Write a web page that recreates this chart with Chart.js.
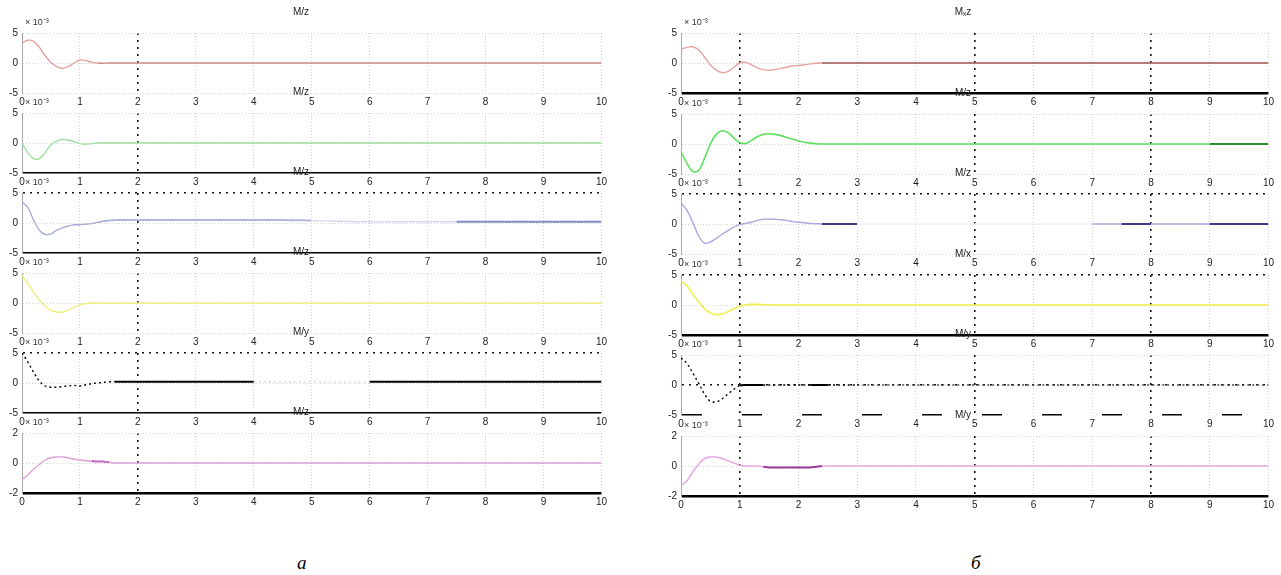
<!DOCTYPE html>
<html>
<head>
<meta charset="utf-8">
<script src="https://cdn.jsdelivr.net/npm/chart.js@4.4.1/dist/chart.umd.min.js"></script>
<style>
body { margin:0; background:#fff; width:1281px; height:575px; position:relative; overflow:hidden; }
.plot { position:absolute; }
.letter { position:absolute; font-family:"Liberation Serif", serif; font-style:italic; font-size:19px; color:#000; }
</style>
</head>
<body>
<div class="letter" style="left:297px;top:552px">а</div>
<div class="letter" style="left:971px;top:552px">б</div>
<script>
// time axis (s) and tick labels
const time = [0,0.1,0.2,0.3,0.4,0.5,0.6,0.7,0.8,0.9,1,1.1,1.2,1.3,1.4,1.5,1.6,1.7,1.8,1.9,2,2.1,2.2,2.3,2.4,2.5,3,3.5,4,4.5,5,5.5,6,6.5,7,7.5,8,8.5,9,9.5,10];
const xTicks = [0,1,2,3,4,5,6,7,8,9,10];
const yTicks5 = [-5,0,5];
const yTicks2 = [-2,0,2];

// panel a (x 10^-3)
const aRow1 = [3.3,3.8,3.6,2.6,1.2,0.1,-0.6,-0.9,-0.6,0,0.5,0.4,0.1,0,-0.05,0,0,0,0,0,0,0,0,0,0,0,0,0,0,0,0,0,0,0,0,0,0,0,0,0,0];
const aRow2 = [0,-1.6,-2.6,-2.6,-1.6,-0.3,0.3,0.6,0.5,0.2,-0.1,-0.2,-0.1,0,0,0,0,0,0,0,0,0,0,0,0,0,0,0,0,0,0,0,0,0,0,0,0,0,0,0,0];
const aRow3 = [3.5,2.6,0.5,-1.2,-1.9,-1.8,-1.2,-0.8,-0.5,-0.3,-0.3,-0.2,-0.1,0.1,0.3,0.4,0.5,0.5,0.5,0.5,0.5,0.5,0.5,0.5,0.5,0.5,0.5,0.5,0.5,0.5,0.4,0.3,0.2,0.2,0.2,0.2,0.2,0.2,0.2,0.2,0.2];
const aRow4 = [4.5,3.3,1.8,0.5,-0.5,-1.2,-1.5,-1.5,-1.2,-0.7,-0.3,-0.1,0,0,0,0,0,0,0,0,0,0,0,0,0,0,0,0,0,0,0,0,0,0,0,0,0,0,0,0,0];
const aRow5 = [5,3.5,1.8,0.3,-0.5,-0.7,-0.7,-0.6,-0.5,-0.4,-0.5,-0.3,-0.1,0,0.1,0.2,0.2,0.2,0.2,0.2,0.2,0.2,0.2,0.2,0.2,0.2,0.2,0.2,0.2,0.2,0.2,0.2,0.2,0.2,0.2,0.2,0.2,0.2,0.2,0.2,0.2];
const aRow6 = [-1.1,-0.8,-0.4,-0.1,0.2,0.35,0.4,0.4,0.35,0.25,0.2,0.15,0.12,0.1,0.1,0.05,0,0,0,0,0,0,0,0,0,0,0,0,0,0,0,0,0,0,0,0,0,0,0,0,0];

// panel б (x 10^-3)
const bRow1 = [2.3,2.6,2.7,2.2,1.0,-0.3,-1.2,-1.6,-1.4,-0.7,0,0.1,-0.3,-0.8,-1.1,-1.2,-1.1,-0.9,-0.7,-0.5,-0.4,-0.3,-0.15,-0.05,0,0,0,0,0,0,0,0,0,0,0,0,0,0,0,0,0];
const bRow2 = [-1.3,-3.2,-4.6,-4.4,-2.4,0,1.6,2.2,1.9,1.0,0.2,0.1,0.6,1.2,1.6,1.7,1.6,1.4,1.1,0.8,0.5,0.3,0.15,0.05,0,0,0,0,0,0,0,0,0,0,0,0,0,0,0,0,0];
const bRow3 = [3.5,2.3,0.3,-2.0,-3.2,-3.0,-2.4,-1.7,-1.1,-0.5,-0.1,0.1,0.3,0.6,0.8,0.8,0.8,0.7,0.6,0.4,0.3,0.2,0.1,0.05,0,0,0,0,0,0,0,0,0,0,0,0,0,0,0,0,0];
const bRow4 = [4.0,3.2,1.8,0.5,-0.6,-1.3,-1.6,-1.5,-1.1,-0.6,-0.2,0,0.1,0.1,0.05,0,0,0,0,0,0,0,0,0,0,0,0,0,0,0,0,0,0,0,0,0,0,0,0,0,0];
const bRow5 = [4.5,3.6,2.0,0.3,-1.5,-2.7,-2.8,-2.3,-1.5,-0.7,-0.1,0,0,0,0,0,0,0,0,0,0,0,0,0,0,0,0,0,0,0,0,0,0,0,0,0,0,0,0,0,0];
const bRow6 = [-1.3,-1.0,-0.4,0.1,0.5,0.6,0.6,0.5,0.35,0.2,0.05,0,0,0,-0.05,-0.1,-0.1,-0.1,-0.1,-0.1,-0.1,-0.1,-0.1,-0.05,0,0,0,0,0,0,0,0,0,0,0,0,0,0,0,0,0];

Chart.defaults.font.family = '"Liberation Sans", Arial, sans-serif';
Chart.defaults.font.size = 10;

const GRID = '#d2d2d2';
const DARK = '#111';

// little "x 10^-3" label above the left end of each plot
const expLabel = {
	id: 'expLabel',
	afterDraw(chart, args, opts) {
		const {ctx, chartArea} = chart;
		ctx.save();
		ctx.font = '9px "Liberation Sans", Arial, sans-serif';
		ctx.fillStyle = '#333';
		ctx.textBaseline = 'alphabetic';
		ctx.fillText(opts.text, chartArea.left + 3, chartArea.top - 8);
		ctx.restore();
	}
};

function pick(spans, x, key, dflt) {
	for (const s of spans) {
		if (x >= s[0] && x < s[1] && s[2][key] !== undefined) return s[2][key];
	}
	return dflt;
}

function yLine(p, v, key) {
	const st = v === p.yTicks[0] ? p.gBottom : (v === 0 ? p.gZero : p.gTop);
	const base = {color: GRID, width: 1, dash: [1, 2]};
	return (st || base)[key];
}

function makePlot(p) {
	const cv = document.createElement('canvas');
	cv.width = p.w;
	cv.height = 103;
	cv.className = 'plot';
	cv.style.left = p.left + 'px';
	cv.style.top = p.top + 'px';
	document.body.appendChild(cv);

	const spans = p.spans || [];
	const lw = p.lw || 1.4;

	return new Chart(cv, {
		type: 'line',
		data: {
			datasets: [{
				data: time.map((t, i) => ({x: t, y: p.values[i]})),
				borderColor: p.color,
				borderWidth: lw,
				borderDash: p.dash || [],
				pointRadius: 0,
				tension: 0.35,
				segment: {
					borderColor: c => pick(spans, c.p0.parsed.x, 'color', p.color),
					borderWidth: c => pick(spans, c.p0.parsed.x, 'width', lw),
					borderDash: c => pick(spans, c.p0.parsed.x, 'dash', p.dash || [])
				}
			}]
		},
		options: {
			responsive: false,
			animation: false,
			events: [],
			layout: {padding: {left: 0, right: 8, top: 0, bottom: 0}},
			plugins: {
				legend: {display: false},
				tooltip: {enabled: false},
				title: {display: true, text: p.title, color: '#222', font: {size: 10, weight: 'normal'}, padding: {top: 0, bottom: 15}},
				expLabel: {text: '× 10⁻³'}
			},
			scales: {
				x: {
					type: 'linear', min: 0, max: 10,
					afterBuildTicks: s => { s.ticks = xTicks.map(v => ({value: v})); },
					afterFit: s => { s.height = 16; },
					ticks: {color: '#222', padding: 3, maxRotation: 0, autoSkip: false},
					grid: {
						drawTicks: false,
						color: c => (c.tick && p.darkX.includes(c.tick.value)) ? DARK : GRID,
						lineWidth: c => (c.tick && p.darkX.includes(c.tick.value)) ? 1.6 : 1
					},
					border: {
						display: false,
						dash: c => (c.tick && p.darkX.includes(c.tick.value)) ? [2, 5] : [1, 2]
					}
				},
				y: {
					min: p.yTicks[0], max: p.yTicks[2],
					afterBuildTicks: s => { s.ticks = p.yTicks.map(v => ({value: v})); },
					afterFit: s => { s.width = p.yw; },
					ticks: {color: '#222', padding: 4},
					grid: {
						drawTicks: false,
						color: c => c.tick ? yLine(p, c.tick.value, 'color') : GRID,
						lineWidth: c => c.tick ? yLine(p, c.tick.value, 'width') : 1
					},
					border: {
						display: true, color: '#aaa', width: 1,
						dash: c => c.tick ? yLine(p, c.tick.value, 'dash') : []
					}
				}
			}
		},
		plugins: [expLabel]
	});
}

const solidBlack = {color: '#000', width: 1.6, dash: []};
const thickBlack = {color: '#000', width: 2.4, dash: []};
const darkDots = {color: DARK, width: 1.6, dash: [2, 5]};

const panelA = [
	{title: 'M/z', values: aRow1, color: '#e4a2a2', spans: [[1.3, 10.1, {color: '#c98a8a'}]]},
	{title: 'M/z', values: aRow2, color: '#9fe09f', gBottom: solidBlack},
	{title: 'M/z', values: aRow3, color: '#a7abd9', gTop: darkDots, gBottom: solidBlack,
		spans: [[1.4, 5, {width: 2, color: '#b3b6dc'}], [5, 7.5, {color: '#d6d8ee'}], [7.5, 10.1, {width: 2, color: '#8389c2'}]]},
	{title: 'M/z', values: aRow4, color: '#eeee7c'},
	{title: 'M/y', values: aRow5, color: '#000', dash: [2, 3], gTop: darkDots, gBottom: solidBlack,
		spans: [[1.6, 4, {width: 2, dash: []}], [4, 6, {color: '#dddddd'}], [6, 10.1, {width: 2, dash: []}]]},
	{title: 'M/z', values: aRow6, color: '#dca0dc', yTicks: yTicks2, gBottom: thickBlack,
		spans: [[1.2, 1.5, {width: 2.2, color: '#c070c0'}]]}
];

const panelB = [
	{title: 'Mₓz', values: bRow1, color: '#e6a3a3', gBottom: thickBlack, spans: [[2.4, 10.1, {color: '#a0564e'}]]},
	{title: 'M/z', values: bRow2, color: '#5fe05f', lw: 1.6, spans: [[9, 10.1, {color: '#2f8f2f', width: 1.8}]]},
	{title: 'M/z', values: bRow3, color: '#a9a9df', gTop: darkDots,
		spans: [[2.4, 3, {color: '#3a3d80', width: 2.2}], [3, 7, {color: '#f0f0fa'}], [7.5, 8, {color: '#3a3d80', width: 2}], [9, 10.1, {color: '#3a3d80', width: 2}]]},
	{title: 'M/x', values: bRow4, color: '#f1f04c', lw: 1.6, gTop: darkDots, gBottom: thickBlack},
	{title: 'M/y', values: bRow5, color: '#000', dash: [2, 3], gZero: darkDots, gBottom: {color: '#000', width: 1.6, dash: [20, 40]},
		spans: [[1, 1.4, {width: 2, dash: []}], [2.2, 2.5, {width: 2, dash: []}], [3, 10.1, {color: '#444'}]]},
	{title: 'M/y', values: bRow6, color: '#e5aae5', lw: 1.6, yTicks: yTicks2, gBottom: thickBlack,
		spans: [[1.4, 2.4, {color: '#9a3a9a', width: 2}]]}
];

panelA.forEach((p, i) => {
	makePlot(Object.assign({yTicks: yTicks5, darkX: [2], left: 0, w: 610, yw: 22, top: 6 + 80 * i}, p));
});
panelB.forEach((p, i) => {
	makePlot(Object.assign({yTicks: yTicks5, darkX: [1, 5, 8], left: 657, w: 620, yw: 24, top: Math.round(6 + 80.5 * i)}, p));
});
</script>
</body>
</html>
